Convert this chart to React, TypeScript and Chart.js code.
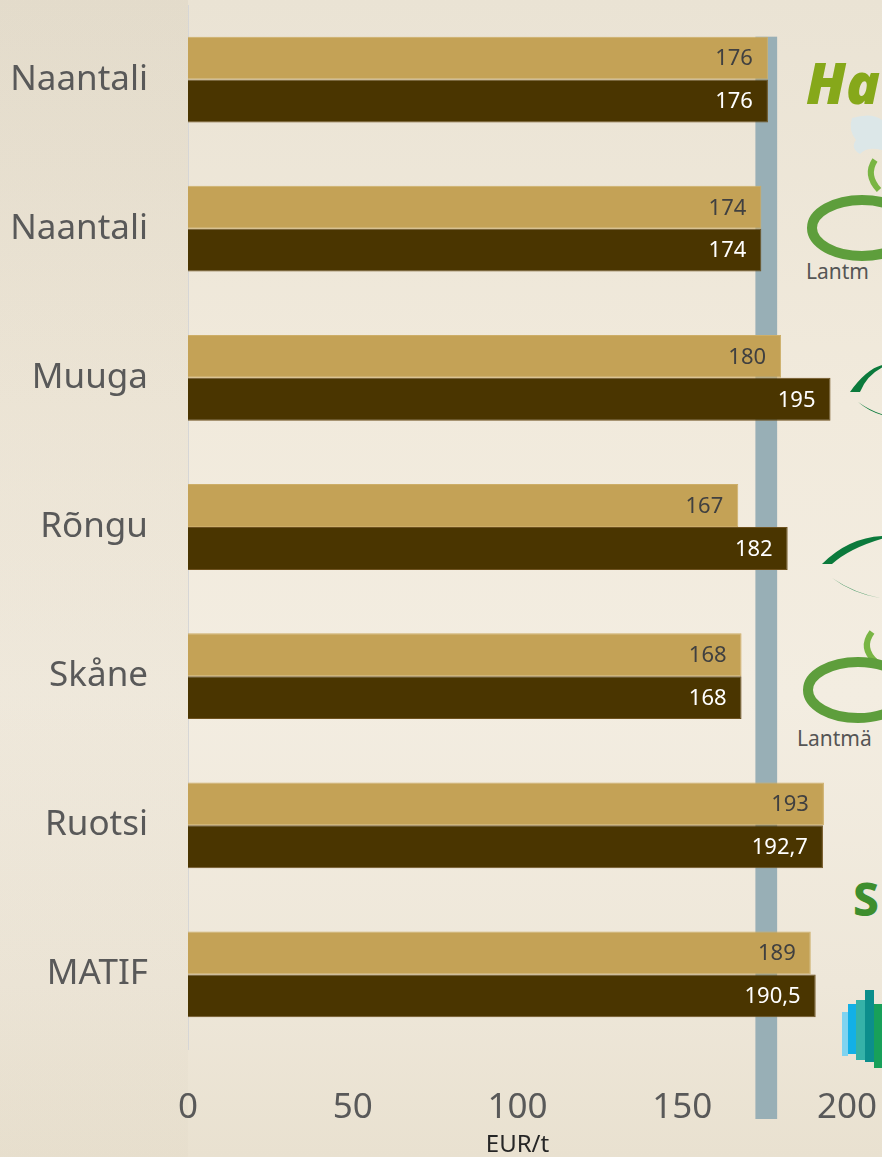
import React, { useEffect, useRef } from 'react';
import { Chart, registerables } from 'chart.js';

Chart.register(...registerables);

const categories = ['Naantali', 'Naantali', 'Muuga', 'Rõngu', 'Skåne', 'Ruotsi', 'MATIF'];
const seriesLight = [176, 174, 180, 167, 168, 193, 189];
const seriesDark = [176, 174, 195, 182, 168, 192.7, 190.5];
const xMin = 0;
const xMax = 200;
const xStep = 50;
const bandFrom = 172.2;
const bandTo = 178.8;
const axisTitle = 'EUR/t';

const FONT = '"Noto Sans", "Open Sans", sans-serif';

const fmt = (v: number) => String(v).replace('.', ',');

const bandPlugin = {
  id: 'band',
  beforeDatasetsDraw(chart: any) {
    const { ctx, chartArea, scales } = chart;
    const x1 = scales.x.getPixelForValue(bandFrom);
    const x2 = scales.x.getPixelForValue(bandTo);
    const first: any = chart.getDatasetMeta(0).data[0];
    const top = first ? first.y - first.height / 2 : chartArea.top;
    const bottom = chartArea.bottom + 70;
    ctx.save();
    ctx.fillStyle = '#98AFB6';
    ctx.fillRect(x1, top, x2 - x1, bottom - top);
    ctx.restore();
  },
};

const labelPlugin = {
  id: 'barLabels',
  afterDatasetsDraw(chart: any) {
    const { ctx } = chart;
    ctx.save();
    ctx.font = `22px ${FONT}`;
    ctx.textAlign = 'right';
    ctx.textBaseline = 'middle';
    chart.data.datasets.forEach((ds: any, di: number) => {
      const meta = chart.getDatasetMeta(di);
      ctx.fillStyle = di === 0 ? '#404040' : '#FFFFFF';
      meta.data.forEach((bar: any, i: number) => {
        ctx.fillText(fmt(ds.data[i]), bar.x - 15, bar.y + 1);
      });
    });
    ctx.restore();
  },
};

function Decorations() {
  return (
    <svg
      width={882}
      height={1157}
      style={{ position: 'absolute', left: 0, top: 0, pointerEvents: 'none' }}
    >
      <text x={806} y={104} fill="#86A81A" fontSize={56} fontWeight={900} fontStyle="italic" fontFamily={FONT}>Ha</text>
      <path d="M852 118 q20 -6 30 2 l0 30 q-15 -4 -22 4 q-10 -6 -4 -14 q-8 -10 -4 -22z" fill="#DCE7E8" />
      <path d="M875 160 q-10 15 4 30" stroke="#79B544" strokeWidth={6} fill="none" />
      <ellipse cx={862} cy={228} rx={50} ry={28} fill="none" stroke="#5E9E3C" strokeWidth={10} />
      <text x={806} y={279} fill="#555" fontSize={21} fontFamily={FONT}>Lantm</text>
      <path d="M850 392 q20 -28 40 -28 q-22 8 -30 28z" fill="#0B7A3C" />
      <path d="M858 402 q14 10 30 14 q-16 -2 -30 -14z" fill="#0B7A3C" />
      <path d="M822 564 q30 -30 70 -28 q-40 10 -60 28z" fill="#0B7A3C" />
      <path d="M832 578 q24 18 60 22 q-34 -4 -60 -22z" fill="#0B7A3C" />
      <path d="M872 632 q-12 16 4 30" stroke="#79B544" strokeWidth={6} fill="none" />
      <ellipse cx={858} cy={690} rx={50} ry={28} fill="none" stroke="#5E9E3C" strokeWidth={10} />
      <text x={797} y={746} fill="#555" fontSize={21} fontFamily={FONT}>Lantmä</text>
      <text x={853} y={916} fill="#3E8E2E" fontSize={46} fontWeight={800} fontFamily={FONT}>S</text>
      <rect x={842} y={1012} width={6} height={44} fill="#7FD3F0" />
      <rect x={848} y={1004} width={8} height={50} fill="#12B0E6" />
      <rect x={856} y={1000} width={9} height={60} fill="#35B2A8" />
      <rect x={865} y={990} width={9} height={72} fill="#0C8E8C" />
      <rect x={874} y={1004} width={8} height={64} fill="#18A05A" />
    </svg>
  );
}

export default function App() {
  const canvasRef = useRef<HTMLCanvasElement | null>(null);

  useEffect(() => {
    if (!canvasRef.current) return;
    const chart = new Chart(canvasRef.current, {
      type: 'bar',
      data: {
        labels: categories,
        datasets: [
          {
            label: 'A',
            data: seriesLight,
            backgroundColor: '#C4A256',
            borderColor: '#CDAE68',
            borderWidth: 1,
            categoryPercentage: 0.575,
            barPercentage: 1,
          },
          {
            label: 'B',
            data: seriesDark,
            backgroundColor: '#4A3500',
            borderColor: '#6E5220',
            borderWidth: 1,
            categoryPercentage: 0.575,
            barPercentage: 1,
          },
        ],
      },
      options: {
        indexAxis: 'y',
        responsive: true,
        maintainAspectRatio: false,
        animation: false,
        layout: { padding: { top: 5, right: 35, left: 0, bottom: 0 } },
        plugins: {
          legend: { display: false },
          tooltip: { enabled: false },
          title: { display: false },
        },
        scales: {
          x: {
            min: xMin,
            max: xMax,
            grid: { display: false, drawTicks: false },
            border: { display: false },
            ticks: {
              stepSize: xStep,
              color: '#595959',
              padding: 38,
              font: { size: 35, family: FONT },
              maxRotation: 0,
            },
            title: {
              display: true,
              text: axisTitle,
              color: '#262626',
              font: { size: 24, family: FONT, lineHeight: 1 },
              padding: { top: 0, bottom: 0 },
            },
            afterFit(scale: any) {
              scale.height = 108;
              scale.paddingLeft = 0;
              scale.paddingRight = 0;
            },
          },
          y: {
            grid: { display: false, drawTicks: false },
            border: { display: true, color: '#D6D6D6', width: 1 },
            ticks: {
              color: '#595959',
              padding: 40,
              font: { size: 35, family: FONT },
            },
            afterFit(scale: any) {
              scale.width = 188;
              scale.paddingTop = 0;
              scale.paddingBottom = 0;
            },
          },
        },
      },
      plugins: [bandPlugin, labelPlugin],
    });
    return () => chart.destroy();
  }, []);

  return (
    <div
      style={{
        position: 'absolute',
        left: 0,
        top: 0,
        width: 882,
        height: 1157,
        overflow: 'hidden',
        background:
          'linear-gradient(to bottom, #EAE3D4 0%, #F1EADC 35%, #F3EDE1 60%, #EEE7D9 85%, #E9E1D0 100%)',
      }}
    >
      <div
        style={{
          position: 'absolute',
          left: 0,
          top: 0,
          width: 188,
          height: 1157,
          background: 'linear-gradient(to bottom, rgba(120,100,60,0.06), rgba(120,100,60,0.02))',
        }}
      />
      <Decorations />
      <canvas ref={canvasRef} width={882} height={1157} style={{ position: 'absolute', left: 0, top: 0, width: 882, height: 1157 }} />
    </div>
  );
}
